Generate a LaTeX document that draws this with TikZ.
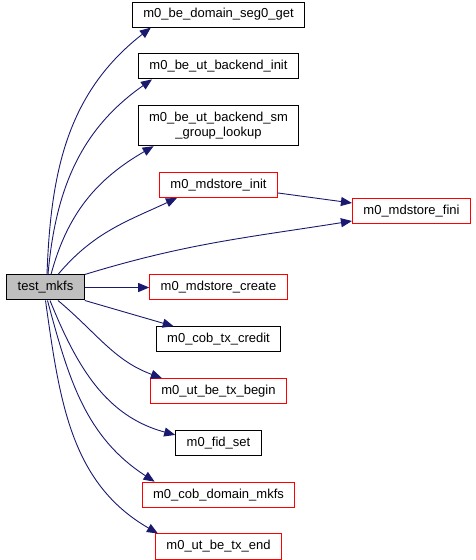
\documentclass[tikz,border=0pt]{standalone}
\usepackage{fontspec}
\setmainfont{Liberation Sans}
\usetikzlibrary{arrows.meta,positioning}
\definecolor{edgeblue}{HTML}{191970}
\definecolor{curgrey}{HTML}{BFBFBF}

\begin{document}
\begin{tikzpicture}[
  x=1pt, y=1pt, >={Triangle[length=11pt,width=9pt]},
  font=\fontsize{13}{15}\selectfont, node distance=25.8pt,
  fn/.style={draw=black, line width=1pt, fill=white,
             minimum height=25pt, inner xsep=11pt, inner ysep=2pt},
  fnred/.style={fn, draw=red},
  cur/.style={fn, fill=curgrey},
  arr/.style={->, draw=edgeblue, line width=0.9pt},
]
  \useasboundingbox (0,0) rectangle (476,560);

  \node[cur] (test) at (45.5,272.5) {test\_mkfs};
  \node[fnred] (create) at (218.5,272.5) {m0\_mdstore\_create};
  \node[fnred, above=76.5pt of create] (init) {m0\_mdstore\_init};
  \node[fn, above=of init, minimum height=40pt, align=center] (smlookup)
    {m0\_be\_ut\_backend\_sm\\\_group\_lookup};
  \node[fn, above=of smlookup] (backend) {m0\_be\_ut\_backend\_init};
  \node[fn, above=of backend] (seg0) {m0\_be\_domain\_seg0\_get};
  \node[fnred] (fini) at (411.5,348.5) {m0\_mdstore\_fini};
  \node[fn, below=of create] (credit) {m0\_cob\_tx\_credit};
  \node[fnred, below=of credit] (txbegin) {m0\_ut\_be\_tx\_begin};
  \node[fn, below=of txbegin] (fid) {m0\_fid\_set};
  \node[fnred, below=of fid] (domain) {m0\_cob\_domain\_mkfs};
  \node[fnred, below=of domain] (txend) {m0\_ut\_be\_tx\_end};

  \draw[arr] ([xshift=1.5pt]test.north) to[out=88, in=218] ([xshift=19pt]seg0.south west);
  \draw[arr] ([xshift=2.5pt]test.north) to[out=85, in=215] ([xshift=14pt]backend.south west);
  \draw[arr] ([xshift=5.5pt]test.north) to[out=75, in=210] ([xshift=16pt]smlookup.south west);
  \draw[arr] ([xshift=12.5pt]test.north) to[out=50, in=205] ([xshift=18pt]init.south west);
  \draw[arr] ([yshift=-8pt]init.east) -- ([yshift=8.5pt]fini.west);
  \draw[arr] (test.north east) to[out=17, in=189] ([yshift=-9.5pt]fini.west);
  \draw[arr] (test) -- (create);
  \draw[arr] (test.south east) -- ([xshift=18pt]credit.north west);
  \draw[arr] ([xshift=12.5pt]test.south) to[out=-40, in=160] ([xshift=12pt]txbegin.north west);
  \draw[arr] ([xshift=4.5pt]test.south) to[out=-68, in=165] ([yshift=8pt]fid.west);
  \draw[arr] ([xshift=2pt]test.south) to[out=-75, in=147] ([xshift=13pt]domain.north west);
  \draw[arr] (test.south) to[out=-82, in=150] ([xshift=3pt]txend.north west);
\end{tikzpicture}
\end{document}
